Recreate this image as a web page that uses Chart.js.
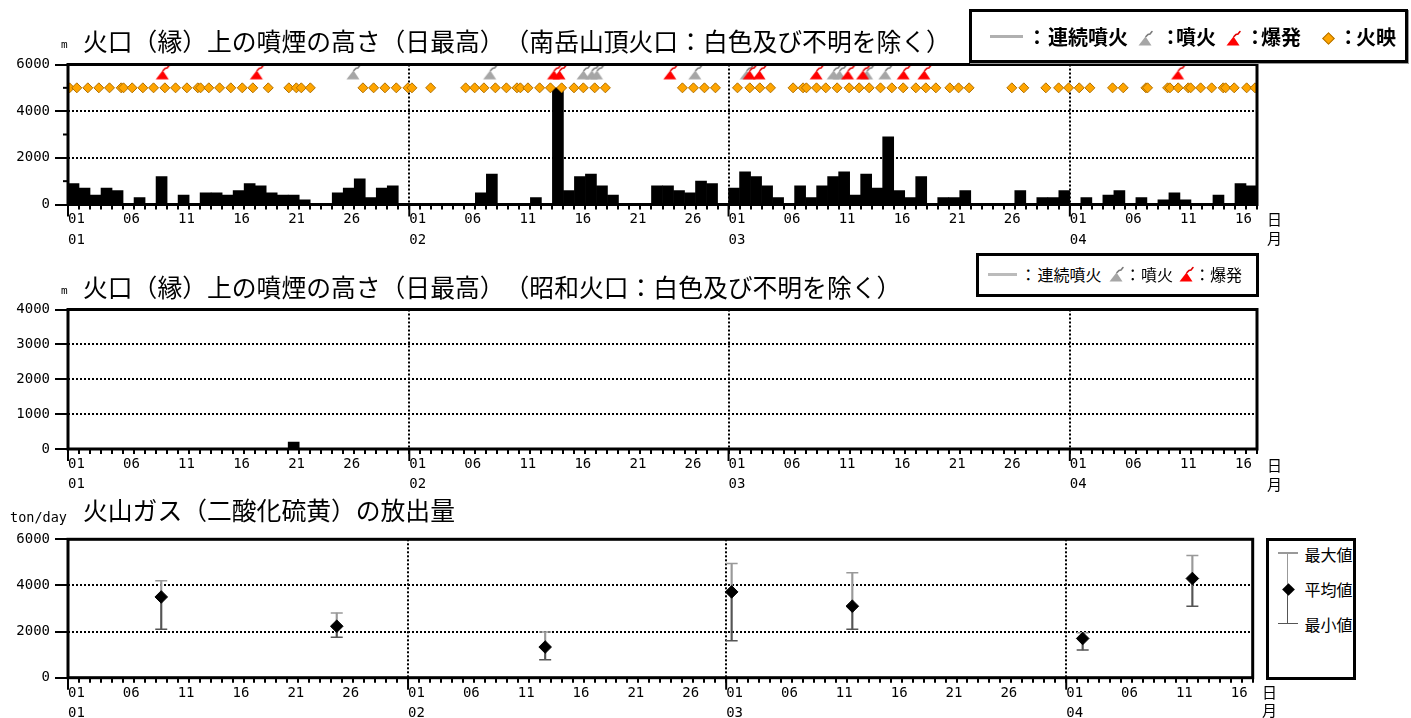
<!DOCTYPE html>
<html lang="ja"><head><meta charset="utf-8"><title>噴煙の高さ・火山ガス</title>
<script src="https://cdn.jsdelivr.net/npm/chart.js@4.4.0/dist/chart.umd.min.js"></script>
<style>
html,body{margin:0;padding:0;background:#fff;}
body{width:1411px;height:718px;position:relative;overflow:hidden;font-family:"Noto Sans CJK JP","Noto Sans",sans-serif;color:#000;text-spacing-trim:space-all;font-feature-settings:"palt" 0;}
canvas{position:absolute;left:0;}
.t{position:absolute;white-space:nowrap;line-height:1;color:#000;text-spacing-trim:space-all;}
.box{position:absolute;box-sizing:border-box;border:3px solid #000;background:#fff;}
.r{position:absolute;}
</style></head>
<body>
<canvas id="c1" width="1411" height="250" style="top:0px"></canvas>
<canvas id="c2" width="1411" height="240" style="top:250px"></canvas>
<canvas id="c3" width="1411" height="228" style="top:490px"></canvas>
<script>
// ---------------- DATA ----------------
const monthLabels = ['01','02','03','04'];
const monthLengths = [31,29,31,17];
const labeledDays = [1,6,11,16,21,26];

// 南岳山頂火口 daily max plume height (m)
const minamidakeJan = [900,700,400,700,600,0,300,0,1200,0,400,0,500,500,400,600,900,800,500,400,400,200,0,0,500,700,1100,300,700,800,0];
const minamidakeFeb = [0,0,0,0,0,0,500,1300,0,0,0,300,0,5000,600,1200,1300,800,400,0,0,0,800,800,600,500,1000,900,0];
const minamidakeMar = [700,1400,1200,800,300,0,800,300,800,1200,1400,400,1300,700,2900,600,300,1200,0,300,300,600,0,0,0,0,600,0,300,300,600];
const minamidakeApr = [0,300,0,400,600,0,300,0,200,500,200,0,0,400,0,900,800];

// 昭和火口 daily max plume height (m)
const showaJan = [0,0,0,0,0,0,0,0,0,0,0,0,0,0,0,0,0,0,0,0,200,0,0,0,0,0,0,0,0,0,0];
const showaFeb = [0,0,0,0,0,0,0,0,0,0,0,0,0,0,0,0,0,0,0,0,0,0,0,0,0,0,0,0,0];
const showaMar = [0,0,0,0,0,0,0,0,0,0,0,0,0,0,0,0,0,0,0,0,0,0,0,0,0,0,0,0,0,0,0];
const showaApr = [0,0,0,0,0,0,0,0,0,0,0,0,0,0,0,0,0];

// event times (days elapsed since 01/01 00:00)
const incandescenceDays = [0.14,0.80,1.80,2.80,3.77,4.83,5.04,5.83,6.80,7.77,8.80,9.77,10.80,11.79,12.04,12.79,13.77,14.79,15.83,16.79,18.19,20.06,20.74,21.19,22.01,26.79,27.76,28.79,29.82,30.88,31.24,32.94,36.12,36.94,37.78,38.82,39.82,40.78,41.09,41.78,42.84,43.82,44.84,45.96,46.81,47.84,48.81,55.81,56.81,57.81,58.81,60.81,61.93,62.84,63.81,65.86,66.77,67.07,67.99,68.83,69.86,70.95,71.86,72.77,73.80,74.83,75.86,77.01,77.92,78.83,80.10,80.89,81.85,85.73,86.82,88.82,89.98,90.89,91.85,92.82,94.88,95.85,97.91,98.06,99.88,100.09,100.84,101.75,101.97,102.88,103.88,104.93,105.15,105.93,107.06,107.82];
const eruptionDays = [25.88,38.30,46.78,47.54,48.00,56.93,61.60,69.50,70.04,72.53,74.19];
const explosionDays = [8.56,17.10,44.10,44.60,54.66,61.87,62.77,67.95,70.80,72.17,75.86,77.74,100.79];
const incandescenceLevel = 5000;
const eventLevel = 5600;

// SO2 emission (ton/day): day index of measurement
const so2Days = [8,24,43,60,71,92,102];
const so2Mean = [3500,2230,1330,3720,3100,1700,4300];
const so2Max  = [4200,2800,1980,4950,4550,1950,5300];
const so2Min  = [2100,1750,780,1600,2100,1200,3100];

// axis tick labels
const topYLabels = [0,2000,4000,6000];
const topYMinor = [1000,3000,5000];
const showaYLabels = [0,1000,2000,3000,4000];
const so2YLabels = [0,2000,4000,6000];

// ---------------- HELPERS ----------------
const DAYS = monthLengths.reduce((a,b)=>a+b,0);
const monthStarts = []; { let acc=0; monthLengths.forEach(n=>{monthStarts.push(acc); acc+=n;}); }
const minamidake = [...minamidakeJan,...minamidakeFeb,...minamidakeMar,...minamidakeApr];
const showa = [...showaJan,...showaFeb,...showaMar,...showaApr];

function dayLabel(v){
  if (!Number.isInteger(v)) return '';
  for (let m=monthLengths.length-1; m>=0; m--){
    if (v>=monthStarts[m]){
      const d=v-monthStarts[m]+1;
      if (d>monthLengths[m] || !labeledDays.includes(d)) return '';
      const dd=String(d).padStart(2,'0');
      return d===1 ? [dd, monthLabels[m]] : dd;
    }
  }
  return '';
}
const tickFont = {family:'"DejaVu Sans Mono", monospace', size:14, lineHeight:1.46};

function xAxis(h){
  return {
    type:'linear', min:0, max:DAYS, offset:false,
    grid:{offset:false, drawOnChartArea:true, lineWidth:2, tickLength:5, tickWidth:2, tickColor:'#000',
      color:c=>(c.tick && monthStarts.includes(c.tick.value) && c.tick.value>0)?'#000':'rgba(0,0,0,0)'},
    border:{display:false, dash:[2,2]},
    ticks:{stepSize:1, autoSkip:false, maxRotation:0, minRotation:0, align:'start', padding:0, color:'#000', font:tickFont,
      callback:v=>dayLabel(v)},
    afterFit:s=>{ s.height=h; s.paddingLeft=0; s.paddingRight=0; }
  };
}
function yAxis(max, step, labels){
  return {
    type:'linear', min:0, max:max,
    grid:{drawOnChartArea:true, lineWidth:2, tickLength:13, tickWidth:2,
      tickColor:c=>(c.tick && labels.includes(c.tick.value))?'#000':'rgba(0,0,0,0)',
      color:c=>(c.tick && labels.includes(c.tick.value) && c.tick.value>0 && c.tick.value<max)?'#000':'rgba(0,0,0,0)'},
    border:{display:false, dash:[2,2]},
    ticks:{stepSize:step, autoSkip:false, padding:5, color:'#000', font:{family:'"DejaVu Sans Mono", monospace', size:14},
      callback:v=>labels.includes(v)?String(v):''},
    afterFit:s=>{ s.width=68; s.paddingTop=0; s.paddingBottom=0; }
  };
}
function deco(minorY){
  return {id:'deco', afterDraw(chart){
    const {ctx, chartArea:a, scales:{x,y}} = chart;
    ctx.save();
    ctx.strokeStyle='#000'; ctx.lineWidth=2;
    (minorY||[]).forEach(v=>{const py=y.getPixelForValue(v); ctx.beginPath(); ctx.moveTo(a.left-5,py); ctx.lineTo(a.left,py); ctx.stroke();});
    monthStarts.forEach(v=>{const px=x.getPixelForValue(v); ctx.beginPath(); ctx.moveTo(px,a.bottom); ctx.lineTo(px,a.bottom+12); ctx.stroke();});
    ctx.lineWidth=3;
    ctx.strokeRect(a.left,a.top,a.right-a.left,a.bottom-a.top);
    ctx.restore();
  }};
}
function makeIcon(fill, plume){
  const c=document.createElement('canvas'); c.width=20; c.height=20;
  const g=c.getContext('2d');
  g.fillStyle=fill; g.beginPath(); g.moveTo(3.5,15.5); g.lineTo(16.5,15.5); g.lineTo(10.5,6.5); g.closePath(); g.fill();
  g.strokeStyle=plume; g.lineWidth=1.6; g.lineCap='round';
  g.beginPath(); g.moveTo(11,6.5); g.lineTo(13,4.4); g.lineTo(15,4.0); g.lineTo(17,1.6); g.stroke();
  return c;
}
const GRAY='#A6A6A6', GRAYP='#7a7a7a', RED='#FF0000', REDP='#E00000';
const grayIcon = makeIcon(GRAY, GRAYP), redIcon = makeIcon(RED, REDP);
const baseOpts = (pad, x, y) => ({
  responsive:false, devicePixelRatio:1, animation:false, events:[],
  layout:{padding:pad},
  plugins:{legend:{display:false}, tooltip:{enabled:false}, title:{display:false}},
  scales:{x:x, y:y}
});

// ---------------- CHART 1 ----------------
new Chart(document.getElementById('c1'), {
  type:'bar',
  data:{datasets:[
    {type:'scatter', data:explosionDays.map(d=>({x:d,y:eventLevel})), pointStyle:redIcon, pointRadius:6, order:1},
    {type:'scatter', data:eruptionDays.map(d=>({x:d,y:eventLevel})), pointStyle:grayIcon, pointRadius:6, order:1},
    {type:'scatter', data:incandescenceDays.map(d=>({x:d,y:incandescenceLevel})), pointStyle:'rectRot', pointRadius:5,
      backgroundColor:'#FFA500', borderColor:'#B07000', borderWidth:1, order:2},
    {type:'bar', data:minamidake.map((v,i)=>({x:i+0.5,y:v})), backgroundColor:'#000', borderWidth:0,
      barPercentage:1, categoryPercentage:1, order:3}
  ]},
  options:baseOpts({left:0,right:154,top:64.5,bottom:0}, xAxis(45.5), yAxis(6000,1000,topYLabels)),
  plugins:[deco(topYMinor)]
});

// ---------------- CHART 2 ----------------
new Chart(document.getElementById('c2'), {
  type:'bar',
  data:{datasets:[
    {type:'bar', data:showa.map((v,i)=>({x:i+0.5,y:v})), backgroundColor:'#000', borderWidth:0,
      barPercentage:1, categoryPercentage:1}
  ]},
  options:baseOpts({left:0,right:154,top:59.5,bottom:0}, xAxis(41), yAxis(4000,1000,showaYLabels)),
  plugins:[deco([])]
});

// ---------------- CHART 3 ----------------
const so2X = so2Days.map(d=>d+0.5);
new Chart(document.getElementById('c3'), {
  type:'bar',
  data:{datasets:[
    {type:'bar', data:so2X.map((x,i)=>({x:x,y:[so2Mean[i],so2Max[i]]})), backgroundColor:'#999', barThickness:1.5, grouped:false, order:4},
    {type:'bar', data:so2X.map((x,i)=>({x:x,y:[so2Min[i],so2Mean[i]]})), backgroundColor:'#555', barThickness:1.5, grouped:false, order:4},
    {type:'scatter', data:so2X.map((x,i)=>({x:x,y:so2Max[i]})), pointStyle:'line', pointRadius:6, borderColor:'#999', borderWidth:1.5, order:3},
    {type:'scatter', data:so2X.map((x,i)=>({x:x,y:so2Min[i]})), pointStyle:'line', pointRadius:6, borderColor:'#555', borderWidth:1.5, order:3},
    {type:'scatter', data:so2X.map((x,i)=>({x:x,y:so2Mean[i]})), pointStyle:'rectRot', pointRadius:6.3, backgroundColor:'#000', borderColor:'#000', borderWidth:1, order:1}
  ]},
  options:baseOpts({left:0,right:158.3,top:49.3,bottom:0}, xAxis(40.3), yAxis(6000,2000,so2YLabels)),
  plugins:[deco([])]
});

// ---------------- TEXT / LEGENDS ----------------
function addText(s, left, cy, size, o){
  o=o||{};
  const d=document.createElement('div'); d.className='t'; d.textContent=s;
  const k = o.mono ? 0.574 : 0.556;
  let css = 'left:'+left+'px;top:'+(cy-size*k).toFixed(1)+'px;font-size:'+size+'px;';
  if (o.mono) css += 'font-family:"DejaVu Sans Mono",monospace;';
  if (o.bold) css += 'font-weight:bold;';
  if (o.color) css += 'color:'+o.color+';';
  d.style.cssText = css;
  document.body.appendChild(d); return d;
}
function addColon(cx, cy, size, o){ return addText('：', cx-size/2, cy, size, o); }
function addBox(l,t,w,h,extra){
  const d=document.createElement('div'); d.className='box';
  d.style.cssText='left:'+l+'px;top:'+t+'px;width:'+w+'px;height:'+h+'px;'+(extra||'');
  document.body.appendChild(d); return d;
}
function addRect(l,t,w,h,color,extra){
  const d=document.createElement('div'); d.className='r';
  d.style.cssText='left:'+l+'px;top:'+t+'px;width:'+w+'px;height:'+h+'px;background:'+color+';'+(extra||'');
  document.body.appendChild(d); return d;
}
function addIcon(src,l,t){
  const c=document.createElement('canvas'); c.width=20; c.height=20;
  c.getContext('2d').drawImage(src,0,0);
  c.style.cssText='position:absolute;left:'+l+'px;top:'+t+'px;';
  document.body.appendChild(c);
}

// titles
addText('m', 61, 45.5, 11, {mono:true});
addText('火口（縁）上の噴煙の高さ（日最高）（南岳山頂火口：白色及び不明を除く）', 83, 42, 24.8);
addText('m', 61, 291, 11, {mono:true});
addText('火口（縁）上の噴煙の高さ（日最高）（昭和火口：白色及び不明を除く）', 83, 287.5, 24.8);
addText('ton/day', 10, 519, 13.5, {mono:true});
addText('火山ガス（二酸化硫黄）の放出量', 83, 511, 24.8);

// axis unit labels
addText('日', 1267, 219, 15); addText('月', 1267, 238, 15);
addText('日', 1267, 465, 15); addText('月', 1267, 484, 15);
addText('日', 1262, 692.5, 15); addText('月', 1262, 710, 15);

// top legend
addBox(969, 9, 439, 54, 'box-shadow:1px 1px 0 #999;');
addRect(990, 35, 33, 3.3, '#b0b0b0');
addColon(1037, 38, 20, {bold:true}); addText('連続噴火', 1048, 38, 20, {bold:true});
addIcon(grayIcon, 1135, 30);
addColon(1170.5, 38, 20, {bold:true}); addText('噴火', 1176, 38, 20, {bold:true});
addIcon(redIcon, 1223, 30);
addColon(1255, 38, 20, {bold:true}); addText('爆発', 1261, 38, 20, {bold:true});
addRect(1323.5, 33.5, 7, 7, '#FFA500', 'border:1px solid #B07000;transform:rotate(45deg);');
addColon(1348.3, 38, 20, {bold:true}); addText('火映', 1356, 38, 20, {bold:true});

// middle legend
addBox(976, 252.7, 283, 44);
addRect(988, 273, 29, 3, '#bbbbbb');
addColon(1028.3, 274.8, 16); addText('連続噴火', 1037.5, 274.8, 16);
addIcon(grayIcon, 1106, 265.5);
addColon(1132.7, 274.8, 16); addText('噴火', 1141, 274.8, 16);
addIcon(redIcon, 1176, 265.5);
addColon(1202.3, 274.8, 16); addText('爆発', 1210, 274.8, 16);

// bottom legend
addBox(1266, 538, 90, 142);
addRect(1286.5, 552.7, 1.5, 36.3, '#999');
addRect(1286.5, 589, 1.5, 34.3, '#555');
addRect(1278, 552, 19.5, 1.5, '#999');
addRect(1278, 622.6, 19.5, 1.5, '#555');
addRect(1283.5, 584.5, 9, 9, '#000', 'transform:rotate(45deg);');
addText('最大値', 1304.5, 555, 16);
addText('平均値', 1304.5, 590, 16);
addText('最小値', 1304.5, 625, 16);
</script>
</body></html>
